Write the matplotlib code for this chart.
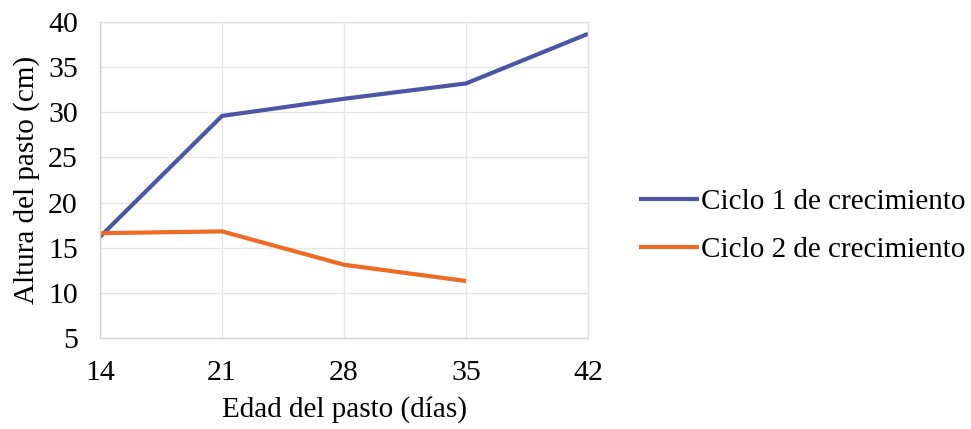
import matplotlib
matplotlib.use("Agg")
import matplotlib.pyplot as plt

days = [14, 21, 28, 35, 42]
ciclo1 = [16.2, 29.6, 31.5, 33.2, 38.7]
days2 = [14, 21, 28, 35]
ciclo2 = [16.6, 16.8, 13.1, 11.3]
labels = ["Ciclo 1 de crecimiento", "Ciclo 2 de crecimiento"]
yticks = [5, 10, 15, 20, 25, 30, 35, 40]

plt.rcParams['font.family'] = ['Liberation Serif', 'DejaVu Serif']

fig = plt.figure(figsize=(9.71, 4.29), dpi=100)
ax = fig.add_axes([0.103, 0.2125, 0.5026, 0.736])

ax.plot(days, ciclo1, color='#4A56A6', lw=3.0, label=labels[0], solid_capstyle='butt')
ax.plot(days2, ciclo2, color='#EE6B24', lw=3.0, label=labels[1], solid_capstyle='butt')

ax.set_xlim(14, 42)
ax.set_ylim(5, 40)
ax.set_xticks(days)
ax.set_yticks(yticks)
ax.grid(True, color='#e6e6e6', lw=1.0)
ax.set_axisbelow(True)
for s in ax.spines.values():
    s.set_color('#e2e2e2')
    s.set_linewidth(1.0)
ax.spines['left'].set_color('#cfcfcf')
ax.spines['bottom'].set_color('#d5d5d5')
ax.tick_params(length=0, labelsize=21.5, colors='black')
ax.tick_params(axis='y', pad=16)
ax.tick_params(axis='x', pad=16)
ax.set_xlabel("Edad del pasto (días)", fontsize=21, labelpad=7)
ax.set_ylabel("Altura del pasto (cm)", fontsize=21, labelpad=6)

fig.legend(loc='center left', bbox_to_anchor=(0.631, 0.473), frameon=False,
           fontsize=21, handlelength=2.05, handletextpad=0.07, labelspacing=0.75)

fig.savefig("out.png", dpi=100)
